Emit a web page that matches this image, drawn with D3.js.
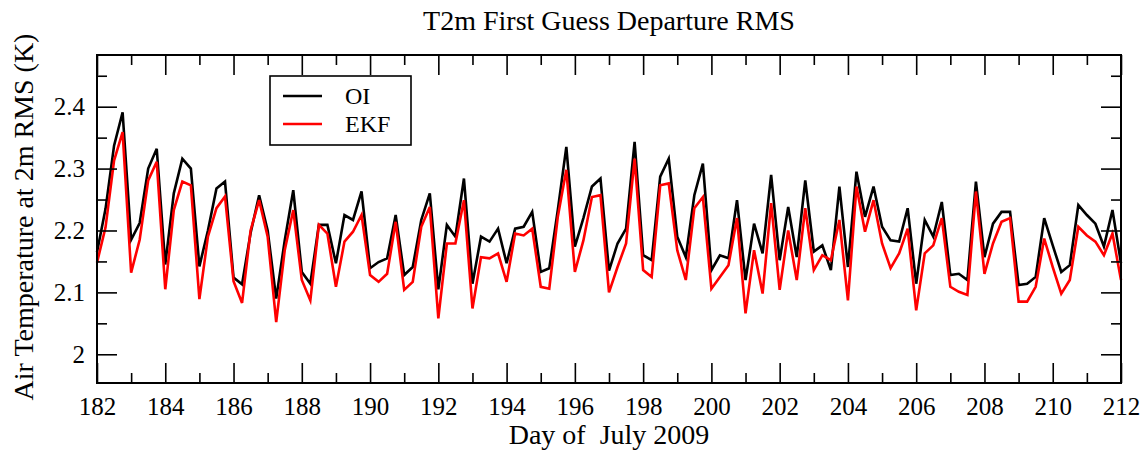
<!DOCTYPE html>
<html>
<head>
<meta charset="utf-8">
<script src="https://cdn.jsdelivr.net/npm/d3@7"></script>
<style>
  html, body { margin: 0; padding: 0; background: #fff; }
  svg { display: block; }
  text { font-family: "Liberation Serif", "DejaVu Serif", serif; fill: #000; white-space: pre; }
</style>
</head>
<body>
<script>
// ---- data (6-hourly, day 182.00 .. 212.00) ----
const startDay = 182;
const stepDay = 0.25;
const seriesNames = ["OI", "EKF"];
const seriesColors = ["#000000", "#ff0000"];
const oiValues = [
  2.165, 2.235, 2.337, 2.391, 2.185, 2.212, 2.300, 2.332, 2.145, 2.260,
  2.316, 2.300, 2.142, 2.200, 2.268, 2.279, 2.124, 2.113, 2.196, 2.257,
  2.200, 2.090, 2.184, 2.265, 2.133, 2.114, 2.209, 2.209, 2.147, 2.225,
  2.217, 2.263, 2.139, 2.149, 2.155, 2.225, 2.128, 2.141, 2.217, 2.260,
  2.105, 2.209, 2.190, 2.284, 2.114, 2.190, 2.182, 2.203, 2.147, 2.203,
  2.206, 2.230, 2.133, 2.139, 2.233, 2.335, 2.174, 2.220, 2.271, 2.284,
  2.135, 2.179, 2.203, 2.343, 2.160, 2.152, 2.287, 2.316, 2.190, 2.157,
  2.257, 2.308, 2.136, 2.160, 2.155, 2.249, 2.120, 2.211, 2.163, 2.290,
  2.152, 2.238, 2.157, 2.281, 2.166, 2.176, 2.136, 2.271, 2.141, 2.295,
  2.222, 2.271, 2.206, 2.184, 2.182, 2.236, 2.114, 2.217, 2.190, 2.246,
  2.128, 2.130, 2.120, 2.279, 2.157, 2.211, 2.230, 2.230, 2.112, 2.114,
  2.125, 2.220, 2.176, 2.133, 2.144, 2.241, 2.225, 2.211, 2.174, 2.233,
  2.147
];
const ekfValues = [
  2.148, 2.205, 2.313, 2.359, 2.132, 2.185, 2.281, 2.311, 2.105, 2.233,
  2.279, 2.273, 2.089, 2.190, 2.236, 2.255, 2.118, 2.083, 2.200, 2.249,
  2.190, 2.052, 2.168, 2.233, 2.120, 2.087, 2.209, 2.195, 2.109, 2.182,
  2.198, 2.225, 2.128, 2.117, 2.130, 2.214, 2.104, 2.117, 2.206, 2.238,
  2.058, 2.179, 2.179, 2.249, 2.074, 2.157, 2.155, 2.163, 2.117, 2.195,
  2.192, 2.203, 2.109, 2.106, 2.222, 2.298, 2.133, 2.184, 2.254, 2.257,
  2.100, 2.141, 2.179, 2.316, 2.136, 2.125, 2.273, 2.276, 2.168, 2.120,
  2.236, 2.254, 2.106, 2.125, 2.144, 2.220, 2.066, 2.168, 2.098, 2.244,
  2.104, 2.200, 2.120, 2.236, 2.136, 2.160, 2.152, 2.217, 2.087, 2.271,
  2.198, 2.249, 2.179, 2.139, 2.163, 2.203, 2.071, 2.163, 2.176, 2.220,
  2.109, 2.101, 2.096, 2.263, 2.130, 2.179, 2.214, 2.220, 2.085, 2.085,
  2.109, 2.187, 2.141, 2.098, 2.120, 2.206, 2.192, 2.182, 2.160, 2.195,
  2.120
];
const xTickLabels = [182, 184, 186, 188, 190, 192, 194, 196, 198, 200, 202, 204, 206, 208, 210, 212];
const yTickLabels = [2.0, 2.1, 2.2, 2.3, 2.4];
const titleText = "T2m First Guess Departure RMS";
const xLabelText = "Day of  July 2009";
const yLabelText = "Air Temperature at 2m RMS (K)";

// ---- layout ----
const W = 1148, H = 451;
const margin = { left: 97, right: 27, top: 55, bottom: 68 };
const pw = W - margin.left - margin.right;
const ph = H - margin.top - margin.bottom;

const svg = d3.select("body").append("svg").attr("width", W).attr("height", H);
const g = svg.append("g").attr("transform", `translate(${margin.left},${margin.top})`);

const x = d3.scaleLinear().domain([182, 212]).range([0, pw]);
const y = d3.scaleLinear().domain([1.9536, 2.4835]).range([ph, 0]);

const days = oiValues.map((_, i) => startDay + i * stepDay);

// ---- data lines ----
const line = d3.line().x((d, i) => x(days[i])).y(d => y(d));
[oiValues, ekfValues].forEach((vals, k) => {
  g.append("path")
    .datum(vals)
    .attr("fill", "none")
    .attr("stroke", seriesColors[k])
    .attr("stroke-width", 2.6)
    .attr("stroke-linejoin", "miter")
    .attr("d", line);
});

// ---- axes (ticks inward on all sides) ----
const majorLen = 20, minorLen = 10;
const xMinor = d3.range(183, 212, 2);
const yMinor = [2.05, 2.15, 2.25, 2.35, 2.45];
const fontTick = 25;

function styleAxis(sel) {
  sel.select(".domain").remove();
  sel.selectAll(".tick line").attr("stroke", "#000").attr("stroke-width", 1.6);
}

// bottom
g.append("g").attr("transform", `translate(0,${ph})`)
  .call(d3.axisBottom(x).tickValues(xTickLabels).tickSize(-majorLen).tickPadding(14).tickFormat(d3.format("d")))
  .call(styleAxis)
  .call(s => s.selectAll("text").attr("font-size", fontTick).attr("font-family", "Liberation Serif").attr("fill", "#000"));
g.append("g").attr("transform", `translate(0,${ph})`)
  .call(d3.axisBottom(x).tickValues(xMinor).tickSize(-minorLen).tickFormat(""))
  .call(styleAxis);
// top
g.append("g")
  .call(d3.axisTop(x).tickValues(xTickLabels).tickSize(-majorLen).tickFormat(""))
  .call(styleAxis);
g.append("g")
  .call(d3.axisTop(x).tickValues(xMinor).tickSize(-minorLen).tickFormat(""))
  .call(styleAxis);
// left
g.append("g")
  .call(d3.axisLeft(y).tickValues(yTickLabels).tickSize(-majorLen).tickPadding(12).tickFormat(d => d === 2 ? "2" : d3.format(".1f")(d)))
  .call(styleAxis)
  .call(s => s.selectAll("text").attr("font-size", fontTick).attr("font-family", "Liberation Serif").attr("fill", "#000"));
g.append("g")
  .call(d3.axisLeft(y).tickValues(yMinor).tickSize(-minorLen).tickFormat(""))
  .call(styleAxis);
// right
g.append("g").attr("transform", `translate(${pw},0)`)
  .call(d3.axisRight(y).tickValues(yTickLabels).tickSize(-majorLen).tickFormat(""))
  .call(styleAxis);
g.append("g").attr("transform", `translate(${pw},0)`)
  .call(d3.axisRight(y).tickValues(yMinor).tickSize(-minorLen).tickFormat(""))
  .call(styleAxis);

// frame
g.append("rect").attr("x", 0).attr("y", 0).attr("width", pw).attr("height", ph)
  .attr("fill", "none").attr("stroke", "#000").attr("stroke-width", 2);

// ---- titles ----
svg.append("text").attr("x", margin.left + pw / 2).attr("y", 30)
  .attr("text-anchor", "middle").attr("font-size", 28).text(titleText);
svg.append("text").attr("x", margin.left + pw / 2).attr("y", 444)
  .attr("text-anchor", "middle").attr("font-size", 28).attr("xml:space", "preserve").text(xLabelText);
svg.append("text").attr("transform", `translate(33,${margin.top + ph / 2 - 2}) rotate(-90)`)
  .attr("text-anchor", "middle").attr("font-size", 28).text(yLabelText);

// ---- legend ----
const leg = svg.append("g").attr("transform", "translate(270,76)");
leg.append("rect").attr("width", 141).attr("height", 69)
  .attr("fill", "#fff").attr("stroke", "#000").attr("stroke-width", 1.6);
seriesNames.forEach((name, k) => {
  const yy = 20 + k * 28;
  leg.append("line").attr("x1", 13).attr("x2", 52).attr("y1", yy).attr("y2", yy)
    .attr("stroke", seriesColors[k]).attr("stroke-width", 2.6);
  leg.append("text").attr("x", 75).attr("y", yy + 8).attr("font-size", 24).text(name);
});
</script>
</body>
</html>
